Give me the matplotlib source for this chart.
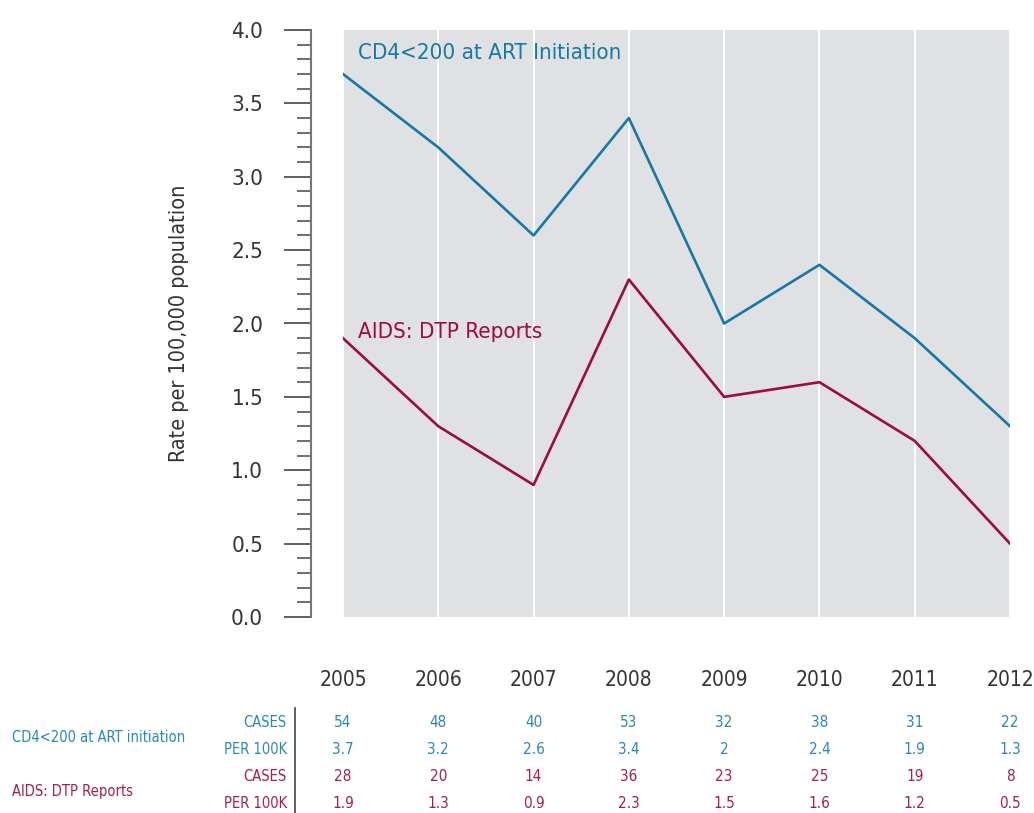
import matplotlib
matplotlib.use("Agg")
import matplotlib.pyplot as plt
import matplotlib.transforms as mtransforms

plt.rcParams['font.family'] = ['DejaVu Sans Condensed', 'DejaVu Sans']
plt.rcParams['font.stretch'] = 'condensed'

years = [2005, 2006, 2007, 2008, 2009, 2010, 2011, 2012]
cd4_rate = [3.7, 3.2, 2.6, 3.4, 2.0, 2.4, 1.9, 1.3]
aids_rate = [1.9, 1.3, 0.9, 2.3, 1.5, 1.6, 1.2, 0.5]
cd4_cases = [54, 48, 40, 53, 32, 38, 31, 22]
aids_cases = [28, 20, 14, 36, 23, 25, 19, 8]

cd4_label = "CD4<200 at ART Initiation"
aids_label = "AIDS: DTP Reports"
cd4_row_label = "CD4<200 at ART initiation"
row_names = ["CASES", "PER 100K", "CASES", "PER 100K"]

blue = "#1579a3"
red = "#9c0b43"
blue_txt = "#2a88b3"
red_txt = "#a61d51"
dark = "#333333"

fig = plt.figure(figsize=(10.34, 8.13), dpi=100)
ax = fig.add_axes([343 / 1034, 1 - 617 / 813, 667 / 1034, 587 / 813])
ax.set_facecolor("#e0e1e3")

for y in years:
    ax.axvline(y, color="white", lw=1.3, zorder=1)

ax.plot(years, cd4_rate, color=blue, lw=1.9, zorder=3)
ax.plot(years, aids_rate, color=red, lw=1.9, zorder=3)

ax.set_xlim(2005, 2012)
ax.set_ylim(0, 4.0)
yt = [0, 0.5, 1.0, 1.5, 2.0, 2.5, 3.0, 3.5, 4.0]
ax.set_yticks(yt)
ax.set_yticklabels(["%.1f" % v for v in yt])
ax.set_yticks([i * 0.1 for i in range(41)], minor=True)
ax.tick_params(axis='y', which='major', length=19.5, width=1.2, color="#444444", pad=15,
               labelsize=16, labelcolor=dark)
ax.tick_params(axis='y', which='minor', length=10, width=1.2, color="#555555")
ax.set_xticks([])

for s in ["top", "right", "bottom"]:
    ax.spines[s].set_visible(False)
ax.spines["left"].set_position(("outward", 23))
ax.spines["left"].set_color("#777777")
ax.spines["left"].set_linewidth(1.5)

ax.set_ylabel("Rate per 100,000 population", fontsize=15.5, color=dark, labelpad=30)

ax.text(2005.16, 3.84, cd4_label, color=blue, fontsize=16, va="center", ha="left")
ax.text(2005.16, 1.94, aids_label, color=red, fontsize=16, va="center", ha="left")

# table below the chart
trans = mtransforms.blended_transform_factory(ax.transData, fig.transFigure)
row_y = [1 - 722 / 813, 1 - 749 / 813, 1 - 776 / 813, 1 - 803 / 813]
for i, y in enumerate(years):
    ax.text(y, 1 - 680 / 813, str(y), transform=trans, ha="center", va="center",
            fontsize=15, color=dark, clip_on=False)
    vals = [str(cd4_cases[i]), "%g" % cd4_rate[i], str(aids_cases[i]), "%g" % aids_rate[i]]
    cols = [blue_txt, blue_txt, red_txt, red_txt]
    for v, ry, c in zip(vals, row_y, cols):
        ax.text(y, ry, v, transform=trans, ha="center", va="center",
                fontsize=11, color=c, clip_on=False)

for name, ry, c in zip(row_names, row_y, [blue_txt, blue_txt, red_txt, red_txt]):
    fig.text(287 / 1034, ry, name, ha="right", va="center", fontsize=10.5, color=c)

fig.text(12 / 1034, 1 - 737 / 813, cd4_row_label, ha="left", va="center", fontsize=10.5, color=blue_txt)
fig.text(12 / 1034, 1 - 791 / 813, aids_label, ha="left", va="center", fontsize=10.5, color=red_txt)

fig.add_artist(plt.Line2D([295 / 1034, 295 / 1034], [1 - 708 / 813, 0], transform=fig.transFigure,
                          color="#555555", lw=1.3))

fig.savefig("out.png", dpi=100)
